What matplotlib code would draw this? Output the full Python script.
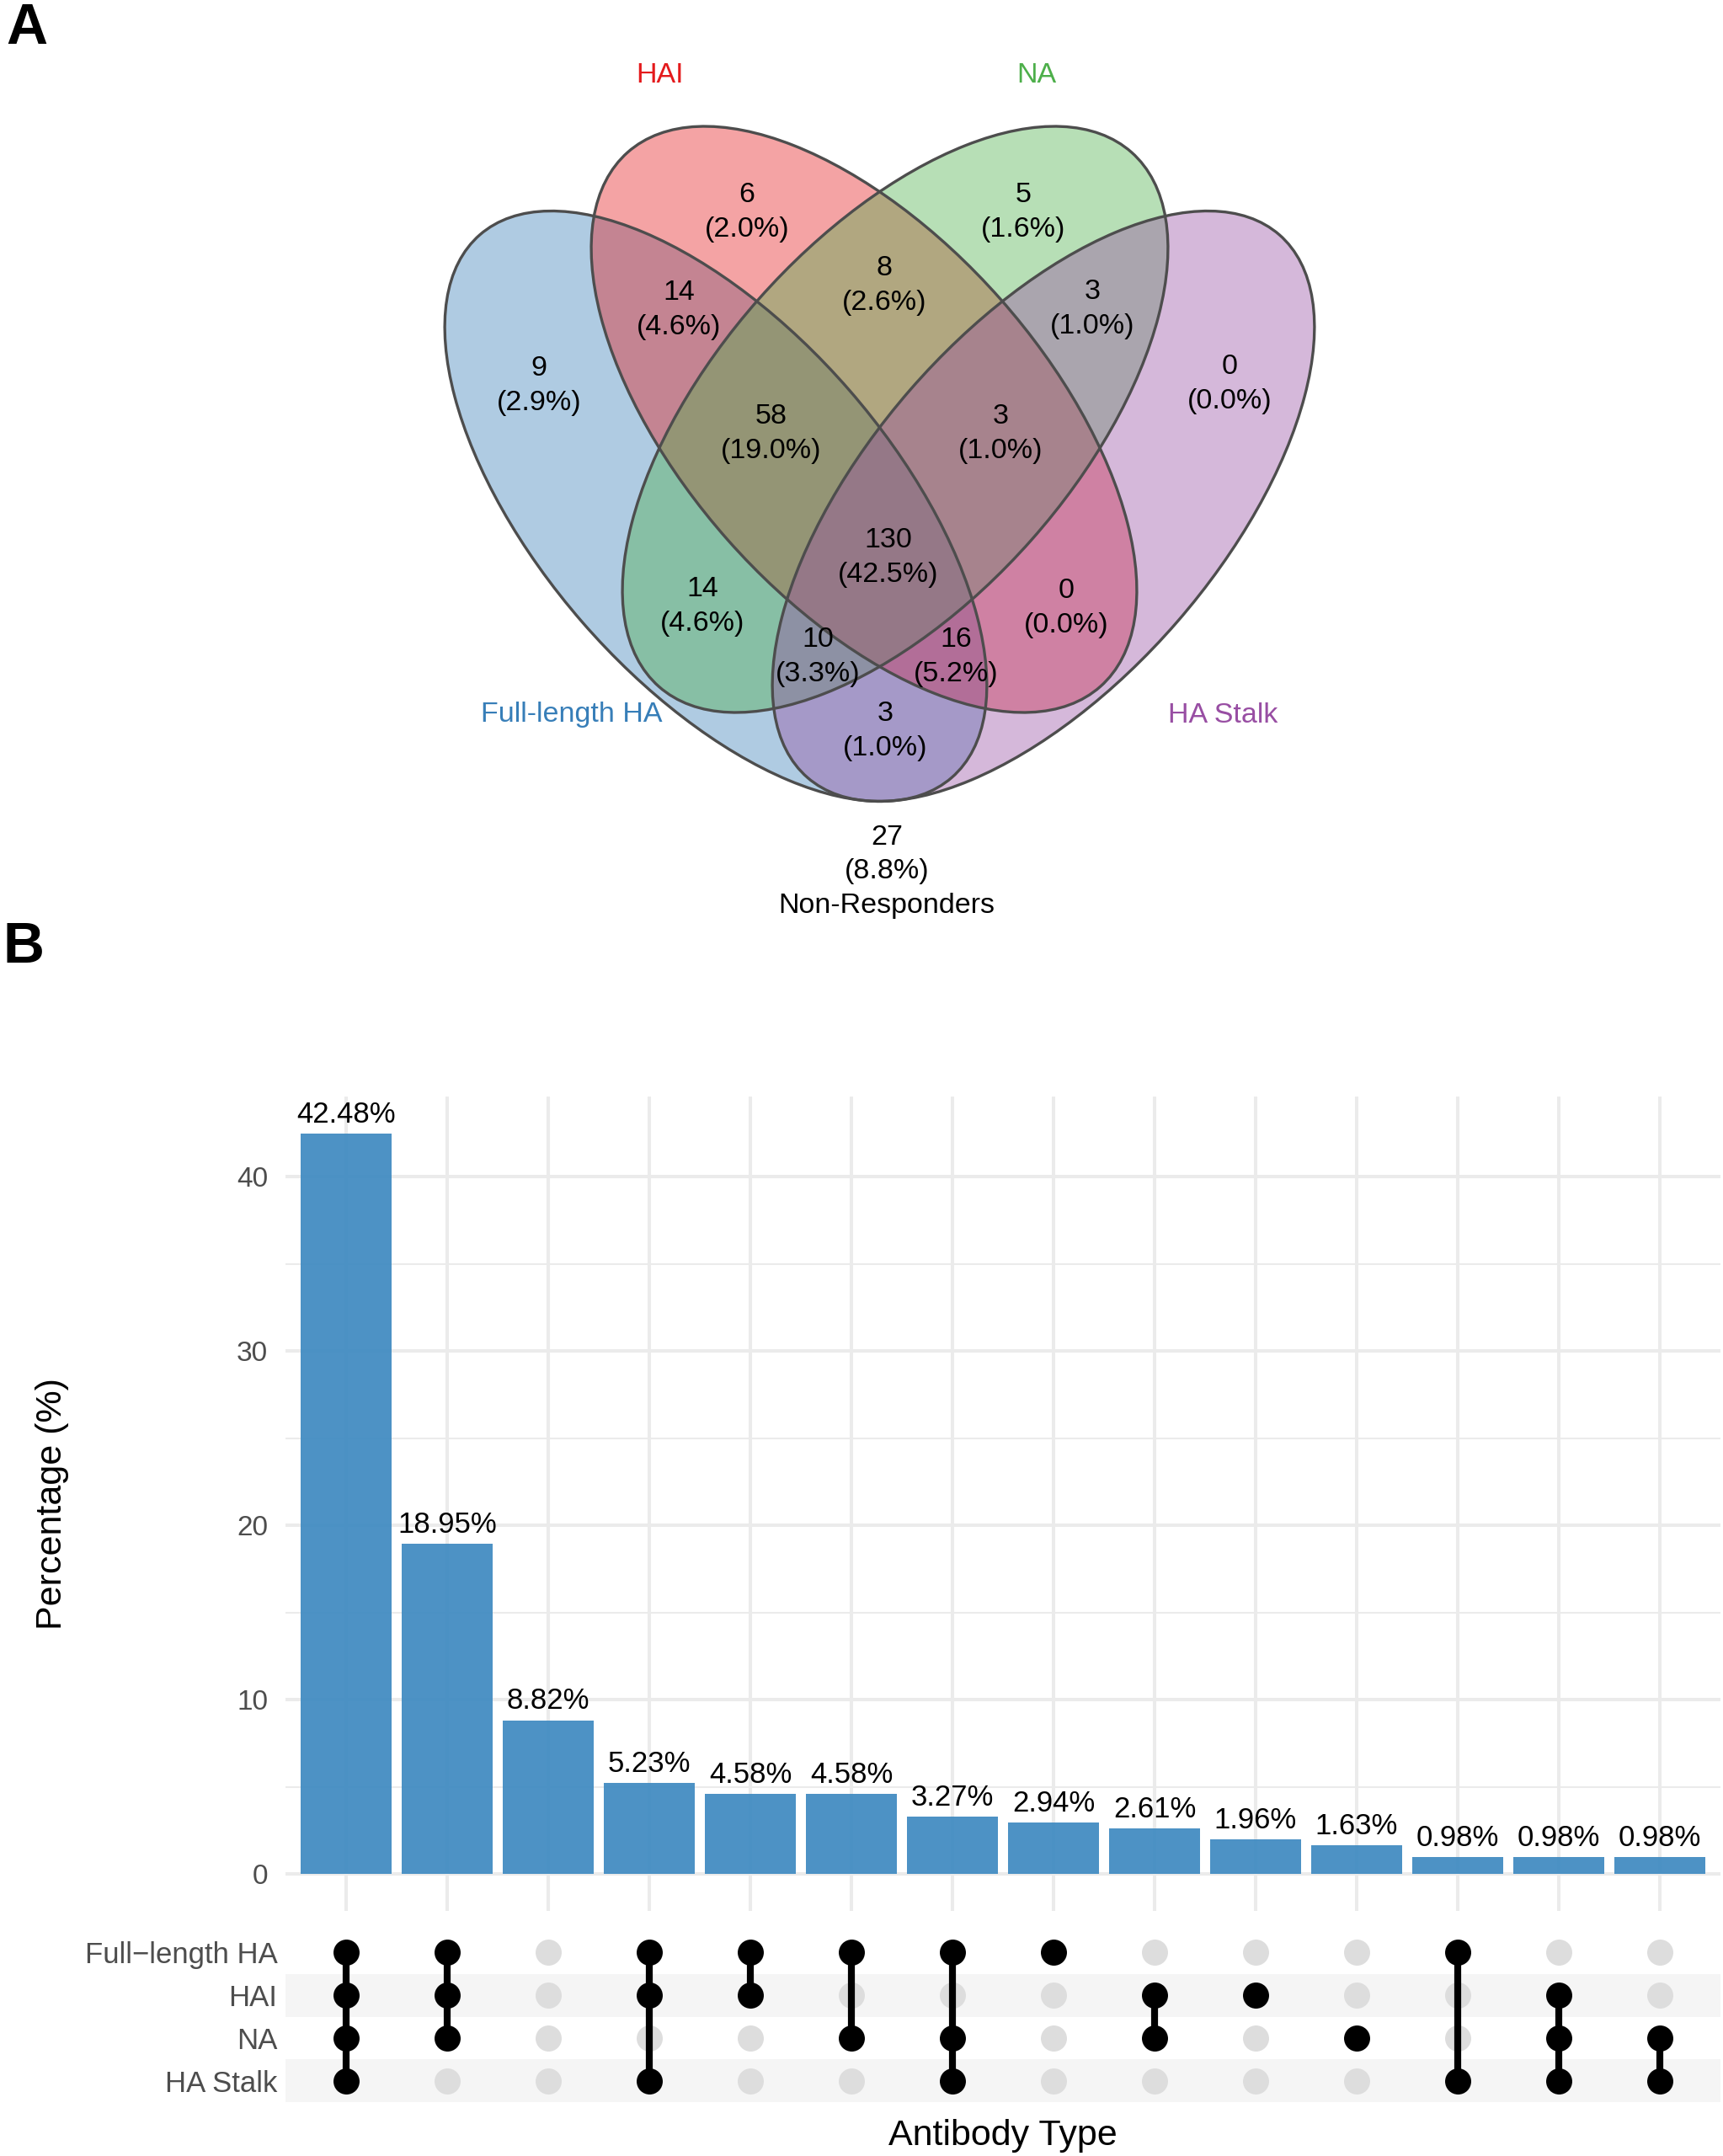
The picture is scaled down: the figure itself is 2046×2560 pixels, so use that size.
import matplotlib
matplotlib.use("Agg")
import matplotlib.pyplot as plt
from matplotlib.patches import Ellipse

plt.rcParams["font.family"] = ["Liberation Sans", "DejaVu Sans"]

# ---------------- data ----------------
set_names = ["Full-length HA", "HAI", "NA", "HA Stalk"]
set_colors = ["#377EB8", "#E41A1C", "#4DAF4A", "#984EA3"]

venn_regions = ["FL", "HAI", "NA", "Stalk", "FL+HAI", "HAI+NA", "NA+Stalk",
                "FL+NA", "HAI+Stalk", "FL+Stalk", "FL+HAI+NA", "HAI+NA+Stalk",
                "FL+NA+Stalk", "FL+HAI+Stalk", "all"]
venn_counts = [9, 6, 5, 0, 14, 8, 3, 14, 0, 3, 58, 3, 10, 16, 130]
venn_pct = [2.9, 2.0, 1.6, 0.0, 4.6, 2.6, 1.0, 4.6, 0.0, 1.0, 19.0, 1.0, 3.3, 5.2, 42.5]
none_count = 27
none_pct = 8.8

upset_rows = ["Full\u2212length HA", "HAI", "NA", "HA Stalk"]
upset_pct = [42.48, 18.95, 8.82, 5.23, 4.58, 4.58, 3.27, 2.94, 2.61, 1.96, 1.63, 0.98, 0.98, 0.98]
upset_members = [
    (1, 1, 1, 1),
    (1, 1, 1, 0),
    (0, 0, 0, 0),
    (1, 1, 0, 1),
    (1, 1, 0, 0),
    (1, 0, 1, 0),
    (1, 0, 1, 1),
    (1, 0, 0, 0),
    (0, 1, 1, 0),
    (0, 1, 0, 0),
    (0, 0, 1, 0),
    (1, 0, 0, 1),
    (0, 1, 1, 1),
    (0, 0, 1, 1),
]

# ---------------- layout (figure pixels, y down) ----------------
W, H = 2046, 2560
# ellipse geometry: centre, full width, full height, angle
ellipses = [
    ((850, 601), 854, 420, 49.0),
    ((1026, 498), 847, 432, 48.5),
    ((1063, 498), 847, 432, 131.5),
    ((1239, 601), 854, 420, 131.0),
]
venn_label_xy = [(640, 458), (887, 252), (1215, 252), (1460, 456), (806, 368),
                 (1050, 339), (1297, 367), (834, 720), (1266, 722), (1051, 868),
                 (916, 515), (1188, 515), (971, 780), (1135, 780), (1055, 662)]
set_label_xy = [(679, 849), (784, 90), (1231, 90), (1452, 849)]

fig = plt.figure(figsize=(W / 100, H / 100), dpi=100)

# ---------------- panel A: Venn ----------------
av = fig.add_axes([0, 0, 1, 1])
av.set_xlim(0, W)
av.set_ylim(H, 0)
av.axis("off")

for (c, w, h, ang), col in zip(ellipses, set_colors):
    av.add_patch(Ellipse(c, w, h, angle=ang, facecolor=col, alpha=0.4,
                         edgecolor="none", zorder=1))
for (c, w, h, ang) in ellipses:
    av.add_patch(Ellipse(c, w, h, angle=ang, facecolor="none",
                         edgecolor="#4D4D4D", linewidth=2.4, zorder=2))

for (x, y), n, p in zip(venn_label_xy, venn_counts, venn_pct):
    av.text(x, y, "%d\n(%.1f%%)" % (n, p), ha="center", va="center",
            fontsize=24.5, linespacing=1.38, color="black", zorder=3)

for (x, y), name, col in zip(set_label_xy, set_names, set_colors):
    av.text(x, y, name, ha="center", va="center", fontsize=24.5, color=col)

av.text(1053, 1035, "%d\n(%.1f%%)\nNon-Responders" % (none_count, none_pct),
        ha="center", va="center", fontsize=24.5, linespacing=1.38)

fig.text(7 / W, 1 - 2 / H, "A", ha="left", va="top", fontsize=49, fontweight="bold")
fig.text(3 / W, 1 - 1093 / H, "B", ha="left", va="top", fontsize=49, fontweight="bold")

# ---------------- panel B: UpSet ----------------
left, right = 339 / W, 2043 / W
bar_top, bar_bot = 1302, 2269
mat_top, mat_bot = 2293, 2496

ab = fig.add_axes([left, 1 - bar_bot / H, right - left, (bar_bot - bar_top) / H])
xs = list(range(1, len(upset_pct) + 1))
ymax = max(upset_pct) * 1.05
ab.set_xlim(0.4, len(xs) + 0.6)
ab.set_ylim(-max(upset_pct) * 0.05, ymax)
ab.bar(xs, upset_pct, width=0.9, color="#3F8AC1", alpha=0.93, zorder=2)
for x, v in zip(xs, upset_pct):
    ab.annotate("%.2f%%" % v, (x, v), xytext=(0, 9.4), textcoords="offset points",
                ha="center", va="baseline", fontsize=25, color="black")
ab.set_xticks(xs)
ab.set_xticklabels([])
ab.set_yticks([0, 10, 20, 30, 40])
ab.set_yticks([5, 15, 25, 35], minor=True)
ab.tick_params(axis="both", which="both", length=0)
ab.tick_params(axis="y", labelsize=24, labelcolor="#4D4D4D", pad=15)
ab.grid(True, which="major", color="#EBEBEB", linewidth=2.9)
ab.grid(True, which="minor", axis="y", color="#EBEBEB", linewidth=1.5)
ab.set_axisbelow(True)
for s in ab.spines.values():
    s.set_visible(False)

am = fig.add_axes([left, 1 - mat_bot / H, right - left, (mat_bot - mat_top) / H])
am.set_xlim(0.4, len(xs) + 0.6)
am.set_ylim(len(upset_rows) - 0.5, -0.5)
for r in range(len(upset_rows)):
    if r % 2 == 1:
        am.axhspan(r - 0.5, r + 0.5, color="#F5F5F5", zorder=0, linewidth=0)
for x, mem in zip(xs, upset_members):
    on = [r for r, m in enumerate(mem) if m]
    off = [r for r, m in enumerate(mem) if not m]
    am.scatter([x] * len(off), off, s=497, color="#DDDDDD", zorder=2, linewidths=0)
    if len(on) > 1:
        am.plot([x, x], [min(on), max(on)], color="black", linewidth=5.9,
                solid_capstyle="butt", zorder=3)
    am.scatter([x] * len(on), on, s=497, color="black", zorder=4, linewidths=0)
am.set_xticks([])
am.set_yticks(range(len(upset_rows)))
am.set_yticklabels(upset_rows)
am.tick_params(axis="y", length=0, labelsize=25, labelcolor="#4D4D4D", pad=7)
for s in am.spines.values():
    s.set_visible(False)

fig.text(62 / W, 1 - 1786 / H, "Percentage (%)", rotation=90, ha="center",
         va="center", fontsize=31)
fig.text((339 + 2043) / 2 / W, 1 - 2536 / H, "Antibody Type", ha="center",
         va="center", fontsize=31)

fig.savefig("out.png", dpi=100)
